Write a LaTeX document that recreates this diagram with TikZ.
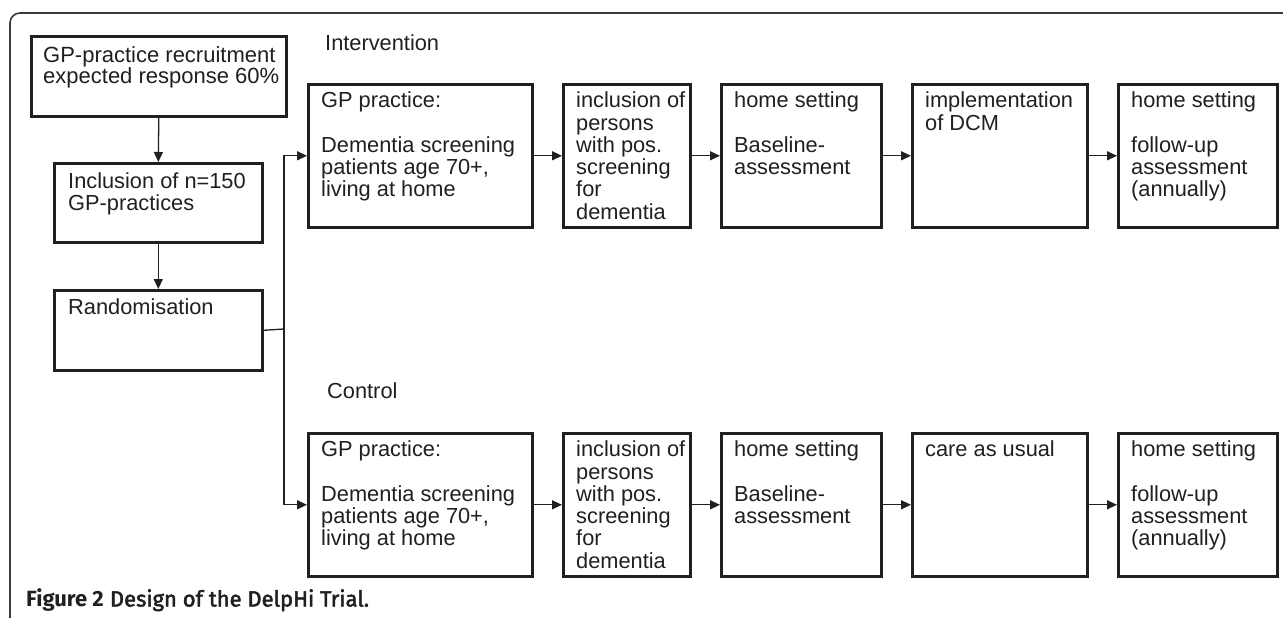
\documentclass[tikz,border=0pt]{standalone}
\usepackage{fontspec}
\setmainfont{Liberation Sans}
\newfontfamily\capfont{Fira Sans}
\newfontfamily\capsemi{Fira Sans}[FakeBold=2.2]
\usetikzlibrary{arrows.meta}
\definecolor{ink}{HTML}{231F20}
\definecolor{framec}{HTML}{3A3A3A}
\lineskiplimit=-50pt
\lineskip=0pt
\begin{document}
\begin{tikzpicture}[x=1pt,y=-1pt,
  boxc/.style={draw=ink,line width=2.6pt,rectangle,inner sep=0pt,anchor=north west},
  txt/.style={anchor=north west,inner sep=0pt,align=left,text=ink,
    font=\fontsize{21.8}{22.3}\selectfont},
  conn/.style={draw=ink,line width=1.3pt,-{Triangle[length=10pt,width=9pt]}},
  plainconn/.style={draw=ink,line width=1.3pt}]
\useasboundingbox (0,0) rectangle (1283,618);
\fill[white] (0,0) rectangle (1283,618);
% frame
\draw[framec,line width=1.6pt,rounded corners=10pt] (10,620) -- (10,13) -- (1285,13);

% left column
\node[boxc,minimum width=255pt,minimum height=80pt] (A) at (30,35) {};
\node[boxc,minimum width=208pt,minimum height=79pt] (B) at (53,162) {};
\node[boxc,minimum width=208pt,minimum height=80pt] (C) at (53,289) {};
\node[txt,font=\fontsize{22}{21}\selectfont] (tA) at (43,45.5) {\rule{0pt}{17pt}GP-practice recruitment\\expected response 60\%};
\node[txt,font=\fontsize{21.8}{21.7}\selectfont] (tB) at (68,171.3) {\rule{0pt}{17pt}Inclusion of n=150\\GP-practices};
\node[txt] (tC) at (68,297) {\rule{0pt}{17pt}Randomisation};

% group labels
\node[txt] (lI) at (325,33) {\rule{0pt}{17pt}Intervention};
\node[txt] (lK) at (327,381.3) {\rule{0pt}{17pt}Control};

% intervention row
\node[boxc,minimum width=224pt,minimum height=143pt] (I1) at (307,83) {};
\node[boxc,minimum width=127pt,minimum height=143pt] (I2) at (562,83) {};
\node[boxc,minimum width=160pt,minimum height=143pt] (I3) at (720,83) {};
\node[boxc,minimum width=175pt,minimum height=143pt] (I4) at (911,83) {};
\node[boxc,minimum width=159pt,minimum height=143pt] (I5) at (1117,83) {};
\node[txt] (tI1) at (321,90.5) {\rule{0pt}{17pt}GP practice:\\[22.3pt]Dementia screening\\patients age 70+,\\living at home};
\node[txt] (tI2) at (576,90.5) {\rule{0pt}{17pt}inclusion of\\persons\\with pos.\\screening\\for\\dementia};
\node[txt] (tI3) at (734,90.5) {\rule{0pt}{17pt}home setting\\[22.3pt]Baseline-\\assessment};
\node[txt] (tI4) at (925,90.5) {\rule{0pt}{17pt}implementation\\of DCM};
\node[txt] (tI5) at (1131,90.5) {\rule{0pt}{17pt}home setting\\[22.3pt]follow-up\\assessment\\(annually)};

% control row
\node[boxc,minimum width=224pt,minimum height=143pt] (K1) at (307,432) {};
\node[boxc,minimum width=127pt,minimum height=143pt] (K2) at (562,432) {};
\node[boxc,minimum width=160pt,minimum height=143pt] (K3) at (720,432) {};
\node[boxc,minimum width=175pt,minimum height=143pt] (K4) at (911,432) {};
\node[boxc,minimum width=159pt,minimum height=143pt] (K5) at (1117,432) {};
\node[txt] (tK1) at (321,439.5) {\rule{0pt}{17pt}GP practice:\\[22.3pt]Dementia screening\\patients age 70+,\\living at home};
\node[txt] (tK2) at (576,439.5) {\rule{0pt}{17pt}inclusion of\\persons\\with pos.\\screening\\for\\dementia};
\node[txt] (tK3) at (734,439.5) {\rule{0pt}{17pt}home setting\\[22.3pt]Baseline-\\assessment};
\node[txt] (tK4) at (925,439.5) {\rule{0pt}{17pt}care as usual};
\node[txt] (tK5) at (1131,439.5) {\rule{0pt}{17pt}home setting\\[22.3pt]follow-up\\assessment\\(annually)};

% connectors
\coordinate (J) at (284,329);
\draw[conn] (A.south) -- (B.north);
\draw[conn] (B.south) -- (C.north);
\draw[plainconn] (C.east) -- (J);
\draw[conn] (J) |- (I1.west);
\draw[conn] (J) |- (K1.west);
\draw[conn] (I1.east) -- (I2.west);
\draw[conn] (I2.east) -- (I3.west);
\draw[conn] (I3.east) -- (I4.west);
\draw[conn] (I4.east) -- (I5.west);
\draw[conn] (K1.east) -- (K2.west);
\draw[conn] (K2.east) -- (K3.west);
\draw[conn] (K3.east) -- (K4.west);
\draw[conn] (K4.east) -- (K5.west);

% caption
\node[anchor=base west,inner sep=0pt,text=ink] (cap) at (26,606.5) {\fontsize{22}{23}\selectfont{\capfont\bfseries Figure 2} {\capsemi Design of the DelpHi Trial.}};
\end{tikzpicture}
\end{document}
